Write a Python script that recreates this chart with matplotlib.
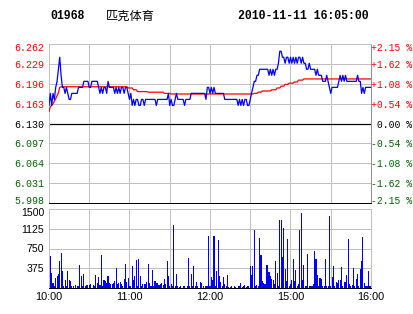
import numpy as np
import matplotlib
matplotlib.use("Agg")
import matplotlib.pyplot as plt
import matplotlib.transforms as mtrans

red = "#FF0000"
green = "#006600"
blue = "#0000FF"
gridc = "#C0C0C0"

code = "01968"
name = "匹克体育"
stamp = "2010-11-11 16:05:00"

prev_close = 6.130
price_ticks = [6.262, 6.229, 6.196, 6.163, 6.130, 6.097, 6.064, 6.031, 5.998]
price_labels = ["6.262", "6.229", "6.196", "6.163", "6.130", "6.097", "6.064", "6.031", "5.998"]
pct_labels = ["+2.15 %", "+1.62 %", "+1.08 %", "+0.54 %", " 0.00 %",
              "-0.54 %", "-1.08 %", "-1.62 %", "-2.15 %"]
vol_ticks = [375, 750, 1125, 1500]
vol_labels = ["375", "750", "1125", "1500"]
time_ticks = [0, 30, 60, 90, 120, 150, 180, 210, 240]
time_labels = ["10:00", "", "11:00", "", "12:00", "", "15:00", "", "16:00"]

# one value per minute, 10:00-12:30 then 14:30-16:00
price = [
    6.16, 6.18, 6.16, 6.18, 6.17, 6.19, 6.20, 6.22, 6.24, 6.21, 6.19, 6.19, 6.18, 6.19, 6.18, 6.17,
    6.17, 6.18, 6.18, 6.18, 6.18, 6.18, 6.19, 6.19, 6.19, 6.19, 6.20, 6.20, 6.20, 6.20, 6.19, 6.19,
    6.20, 6.20, 6.20, 6.20, 6.20, 6.19, 6.18, 6.19, 6.18, 6.19, 6.19, 6.18, 6.20, 6.19, 6.19, 6.19,
    6.19, 6.18, 6.19, 6.18, 6.19, 6.18, 6.19, 6.19, 6.18, 6.19, 6.19, 6.18, 6.17, 6.18, 6.16, 6.17,
    6.16, 6.17, 6.17, 6.16, 6.16, 6.17, 6.17, 6.16, 6.17, 6.17, 6.17, 6.17, 6.17, 6.17, 6.17, 6.17,
    6.16, 6.17, 6.17, 6.17, 6.17, 6.17, 6.17, 6.17, 6.17, 6.18, 6.16, 6.17, 6.16, 6.16, 6.17, 6.18,
    6.17, 6.17, 6.17, 6.17, 6.17, 6.16, 6.17, 6.17, 6.17, 6.17, 6.18, 6.18, 6.18, 6.18, 6.18, 6.18,
    6.18, 6.18, 6.18, 6.18, 6.18, 6.17, 6.19, 6.19, 6.18, 6.19, 6.18, 6.19, 6.18, 6.18, 6.18, 6.18,
    6.18, 6.18, 6.18, 6.17, 6.17, 6.17, 6.17, 6.17, 6.17, 6.17, 6.17, 6.17, 6.17, 6.16, 6.17, 6.16,
    6.17, 6.16, 6.17, 6.17, 6.16, 6.16, 6.17, 6.18, 6.19, 6.20, 6.20, 6.21, 6.21, 6.22, 6.22, 6.22,
    6.22, 6.22, 6.22, 6.22, 6.21, 6.22, 6.21, 6.22, 6.21, 6.22, 6.22, 6.23, 6.25, 6.25, 6.24, 6.24,
    6.23, 6.24, 6.24, 6.23, 6.24, 6.23, 6.24, 6.23, 6.24, 6.23, 6.24, 6.24, 6.23, 6.24, 6.23, 6.23,
    6.22, 6.22, 6.23, 6.22, 6.22, 6.22, 6.22, 6.21, 6.22, 6.21, 6.21, 6.21, 6.20, 6.20, 6.20, 6.21,
    6.20, 6.19, 6.18, 6.19, 6.19, 6.19, 6.19, 6.19, 6.20, 6.21, 6.20, 6.21, 6.20, 6.21, 6.20, 6.20,
    6.20, 6.20, 6.20, 6.20, 6.20, 6.20, 6.21, 6.20, 6.20, 6.18, 6.19, 6.18, 6.19, 6.19, 6.19, 6.19,
    6.19,
]

avg_price = [
    6.150, 6.158, 6.160, 6.163, 6.167, 6.171, 6.176, 6.181, 6.190, 6.191, 6.191, 6.191, 6.191, 6.191, 6.191, 6.191,
    6.191, 6.191, 6.191, 6.191, 6.191, 6.191, 6.191, 6.191, 6.191, 6.191, 6.191, 6.191, 6.191, 6.191, 6.191, 6.191,
    6.191, 6.191, 6.191, 6.191, 6.191, 6.191, 6.191, 6.191, 6.191, 6.191, 6.191, 6.191, 6.191, 6.191, 6.191, 6.191,
    6.191, 6.191, 6.191, 6.191, 6.191, 6.191, 6.191, 6.191, 6.191, 6.191, 6.191, 6.189, 6.189, 6.189, 6.189, 6.186,
    6.186, 6.186, 6.183, 6.183, 6.183, 6.183, 6.183, 6.183, 6.183, 6.183, 6.182, 6.182, 6.182, 6.182, 6.182, 6.182,
    6.182, 6.182, 6.182, 6.182, 6.182, 6.182, 6.180, 6.180, 6.180, 6.180, 6.180, 6.179, 6.179, 6.179, 6.179, 6.179,
    6.179, 6.179, 6.179, 6.179, 6.179, 6.179, 6.179, 6.179, 6.179, 6.179, 6.179, 6.179, 6.179, 6.179, 6.179, 6.179,
    6.179, 6.179, 6.179, 6.179, 6.179, 6.179, 6.179, 6.179, 6.179, 6.179, 6.179, 6.179, 6.179, 6.179, 6.179, 6.179,
    6.179, 6.179, 6.179, 6.179, 6.179, 6.179, 6.179, 6.179, 6.179, 6.179, 6.179, 6.179, 6.179, 6.179, 6.179, 6.179,
    6.179, 6.179, 6.179, 6.179, 6.179, 6.179, 6.179, 6.179, 6.179, 6.180, 6.180, 6.180, 6.182, 6.182, 6.182, 6.184,
    6.184, 6.184, 6.184, 6.184, 6.184, 6.184, 6.186, 6.186, 6.186, 6.186, 6.189, 6.189, 6.189, 6.192, 6.192, 6.192,
    6.195, 6.195, 6.195, 6.197, 6.197, 6.197, 6.197, 6.199, 6.199, 6.199, 6.202, 6.202, 6.202, 6.202, 6.204, 6.204,
    6.204, 6.204, 6.204, 6.204, 6.204, 6.204, 6.204, 6.204, 6.204, 6.204, 6.204, 6.204, 6.204, 6.204, 6.204, 6.204,
    6.204, 6.204, 6.204, 6.204, 6.204, 6.204, 6.204, 6.204, 6.204, 6.204, 6.204, 6.204, 6.204, 6.204, 6.204, 6.204,
    6.204, 6.204, 6.204, 6.204, 6.204, 6.204, 6.204, 6.204, 6.204, 6.204, 6.204, 6.204, 6.204, 6.204, 6.204, 6.204,
    6.204,
]

volume = [
    0, 613, 287, 96, 45, 190, 223, 268, 517, 657, 325, 45, 160, 45, 325, 160,
    128, 45, 38, 0, 51, 45, 30, 440, 230, 45, 268, 45, 51, 51, 64, 70,
    0, 58, 30, 243, 96, 210, 58, 632, 45, 147, 128, 96, 230, 96, 70, 70,
    96, 134, 383, 70, 90, 109, 70, 45, 172, 460, 121, 198, 45, 45, 421, 147,
    230, 536, 45, 555, 236, 45, 70, 83, 70, 115, 447, 102, 45, 351, 45, 134,
    96, 96, 58, 83, 96, 58, 172, 70, 517, 230, 38, 70, 45, 1187, 45, 268,
    45, 20, 38, 0, 32, 32, 0, 45, 574, 45, 262, 45, 421, 45, 115, 45,
    0, 115, 90, 45, 0, 45, 45, 996, 45, 210, 147, 996, 45, 325, 906, 230,
    122, 45, 210, 83, 45, 249, 20, 20, 45, 0, 30, 20, 0, 45, 45, 100,
    20, 45, 60, 20, 45, 30, 421, 249, 421, 1092, 45, 58, 45, 957, 626, 134,
    96, 70, 440, 440, 306, 230, 172, 160, 70, 517, 287, 45, 1283, 1296, 594, 1130,
    364, 134, 938, 45, 83, 147, 543, 134, 345, 45, 70, 1092, 1423, 160, 434, 45,
    45, 651, 45, 45, 38, 70, 709, 555, 249, 45, 191, 179, 45, 45, 543, 45,
    45, 1360, 45, 210, 415, 45, 115, 90, 150, 160, 402, 45, 109, 109, 255, 925,
    70, 45, 58, 383, 45, 179, 274, 45, 370, 517, 977, 90, 45, 45, 325, 45,
    45,
]

minutes = np.arange(len(price))

mono = "Liberation Mono"
sans = "Liberation Sans"
px = 0.72

fig = plt.figure(figsize=(4.14, 3.14), dpi=100)
ax1 = fig.add_axes([49/414, 1 - 203/314, 322/414, 159/314])
ax2 = fig.add_axes([49/414, 1 - 288/314, 322/414, 79/314])

def colour_of(v):
    if v > prev_close:
        return red
    if v == prev_close:
        return "black"
    return green

# price panel
ax1.plot(minutes, avg_price, color=red, lw=0.9, zorder=3)
ax1.plot(minutes, price, color=blue, lw=0.9, zorder=4)
ax1.axhline(prev_close, color="black", lw=1.2*px, zorder=2)
ax1.set_xlim(0, 240)
ax1.set_ylim(5.998, 6.262)
ax1.set_xticks(time_ticks)
ax1.set_xticklabels([])
ax1.set_yticks(price_ticks)
ax1.set_yticklabels(price_labels, family=mono, fontsize=7.2)
for lab, v in zip(ax1.get_yticklabels(), price_ticks):
    lab.set_color(colour_of(v))
ax1.tick_params(length=0, pad=3.5)
ax1.grid(True, color=gridc, lw=px)
for s in ["top", "left"]:
    ax1.spines[s].set_color(gridc)
ax1.spines["right"].set_color("#909090")
ax1.spines["bottom"].set_color("black")
for s in ax1.spines.values():
    s.set_linewidth(px)

axr = ax1.twinx()
axr.set_ylim(5.998, 6.262)
axr.set_yticks(price_ticks)
axr.set_yticklabels(pct_labels, family=mono, fontsize=7.0)
for lab, v in zip(axr.get_yticklabels(), price_ticks):
    lab.set_color(colour_of(v))
axr.tick_params(length=0, pad=0.3)
for s in axr.spines.values():
    s.set_visible(False)

# nudge the edge labels off the panel borders
up = mtrans.ScaledTranslation(0, 3/100, fig.dpi_scale_trans)
down = mtrans.ScaledTranslation(0, -3/100, fig.dpi_scale_trans)
for lab in [ax1.get_yticklabels()[-1], axr.get_yticklabels()[-1]]:
    lab.set_transform(lab.get_transform() + up)
for lab in [ax1.get_yticklabels()[0], axr.get_yticklabels()[0]]:
    lab.set_transform(lab.get_transform() + down)

# volume panel
ax2.bar(minutes, volume, width=0.8, color=blue, lw=0, zorder=3, antialiased=False)
ax2.set_xlim(0, 240)
ax2.set_ylim(0, 1500)
ax2.set_yticks(vol_ticks)
ax2.set_yticklabels(vol_labels, family=sans, fontsize=7.6)
ax2.set_xticks(time_ticks)
ax2.set_xticklabels(time_labels, family=sans, fontsize=7.8)
ax2.tick_params(length=0, pad=3.5)
ax2.tick_params(axis="x", pad=3)
ax2.grid(True, color=gridc, lw=px)
for s in ["top", "left", "right"]:
    ax2.spines[s].set_color(gridc)
ax2.spines["bottom"].set_color("black")
for s in ax2.spines.values():
    s.set_linewidth(px)
top_lab = ax2.get_yticklabels()[-1]
top_lab.set_transform(top_lab.get_transform() + down)

fig.text(50/414, 1 - 16/314, code, family=mono, fontweight="bold", fontsize=8.3, va="center")
fig.text(106/414, 1 - 16/314, name, family=["Noto Sans CJK SC", "DejaVu Sans"], fontsize=8.8, va="center")
fig.text(238/414, 1 - 16/314, stamp, family=mono, fontweight="bold", fontsize=8.3, va="center")

fig.savefig("out.png", dpi=100, facecolor="white")
